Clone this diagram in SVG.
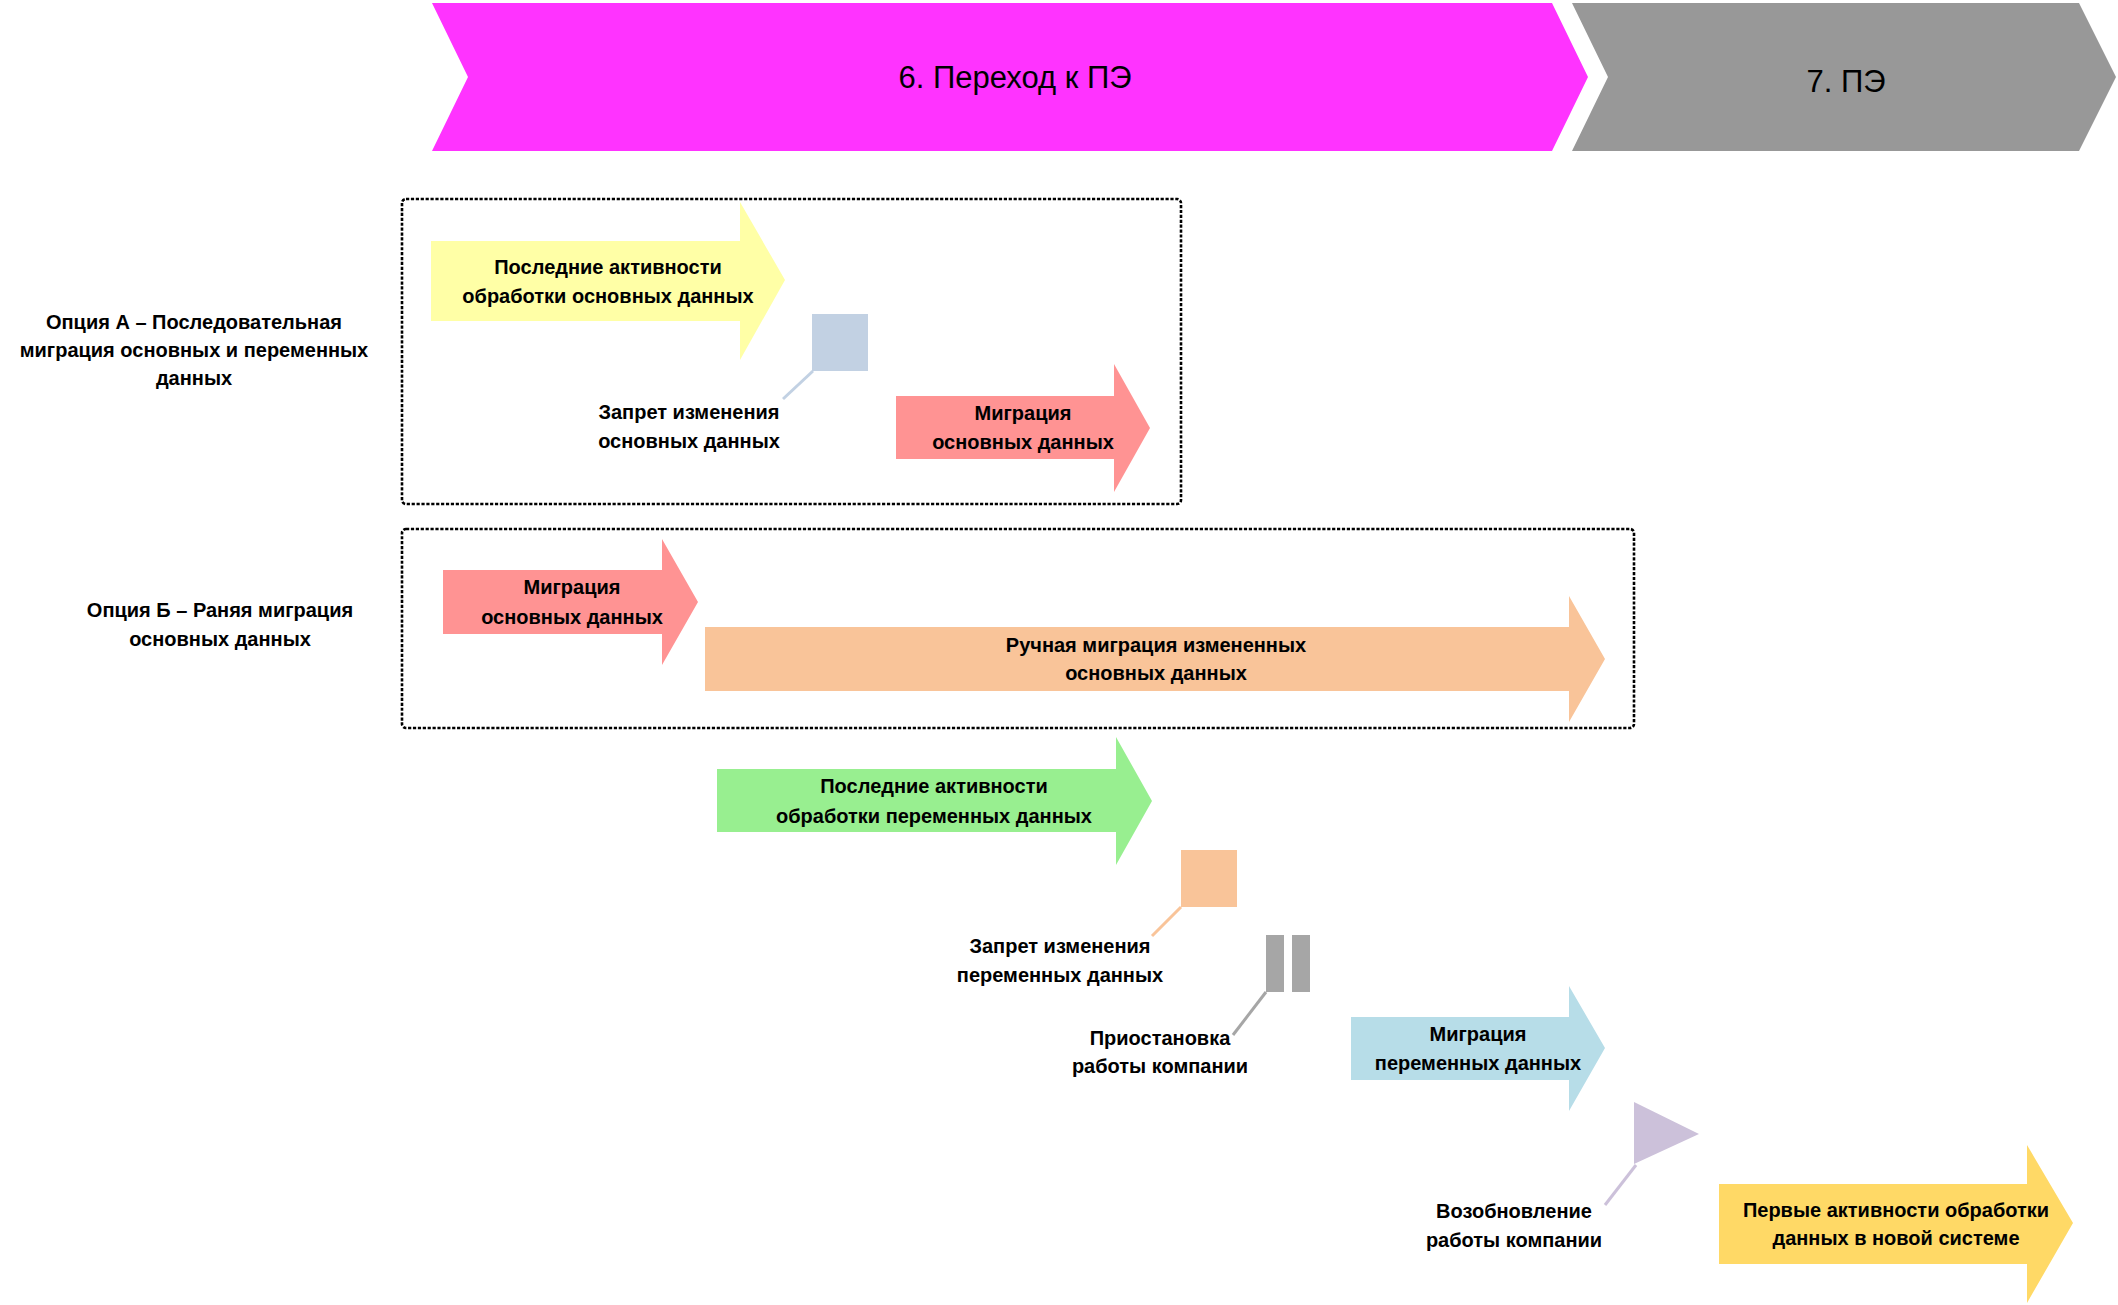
<svg xmlns="http://www.w3.org/2000/svg" width="2118" height="1305" viewBox="0 0 2118 1305">
<style>
  .t { font-family: "Liberation Sans", Arial, sans-serif; font-weight: bold; font-size: 20px; fill: #000; text-anchor: middle; }
  .h { font-family: "Liberation Sans", Arial, sans-serif; font-size: 31px; fill: #000; text-anchor: middle; }
  .box { fill: none; stroke: #000; stroke-width: 2.6; stroke-dasharray: 3.2 1.7; }
  .cl { stroke-width: 3; fill: none; }
</style>
<rect width="2118" height="1305" fill="#fff"/>

<g id="phase6">
  <path d="M432 3 L1552 3 L1588 77 L1552 151 L432 151 L468 77 Z" fill="#FF33FF"/>
  <text class="h" x="1015" y="88">6. Переход к ПЭ</text>
</g>
<g id="phase7">
  <path d="M1572 3 L2079 3 L2116 77 L2079 151 L1572 151 L1608 77 Z" fill="#989898"/>
  <text class="h" x="1846" y="92">7. ПЭ</text>
</g>

<g id="optionA-box">
  <rect class="box" x="402" y="199" width="779" height="305" rx="4"/>
</g>
<g id="optionB-box">
  <rect class="box" x="402" y="529" width="1232" height="199" rx="4"/>
</g>

<g id="optionA-label">
  <text class="t" x="194" y="329">Опция А – Последовательная</text>
  <text class="t" x="194" y="357">миграция основных и переменных</text>
  <text class="t" x="194" y="385">данных</text>
</g>
<g id="optionB-label">
  <text class="t" x="220" y="617">Опция Б – Раняя миграция</text>
  <text class="t" x="220" y="646">основных данных</text>
</g>

<g id="connectors">
  <line class="cl" x1="813" y1="371" x2="783" y2="399" stroke="#C2D1E3"/>
  <line class="cl" x1="1181" y1="907" x2="1152" y2="936" stroke="#F9C499"/>
  <line class="cl" x1="1266" y1="992" x2="1233" y2="1035" stroke="#A6A6A6"/>
  <line class="cl" x1="1636" y1="1165" x2="1605" y2="1205" stroke="#CCC1DA"/>
</g>

<g id="last-master-activities">
  <path d="M431 241 L740 241 L740 202 L785 280 L740 360 L740 321 L431 321 Z" fill="#FFFFA6"/>
  <text class="t" x="608" y="274">Последние активности</text>
  <text class="t" x="608" y="303">обработки основных данных</text>
</g>

<g id="freeze-master">
  <rect x="812" y="314" width="56" height="57" fill="#C2D1E3"/>
  <text class="t" x="689" y="419">Запрет изменения</text>
  <text class="t" x="689" y="448">основных данных</text>
</g>

<g id="migrate-master-A">
  <path d="M896 396 L1114 396 L1114 364 L1150 428 L1114 492 L1114 459 L896 459 Z" fill="#FF9393"/>
  <text class="t" x="1023" y="420">Миграция</text>
  <text class="t" x="1023" y="449">основных данных</text>
</g>

<g id="migrate-master-B">
  <path d="M443 570 L662 570 L662 539 L698 602 L662 665 L662 634 L443 634 Z" fill="#FF9393"/>
  <text class="t" x="572" y="594">Миграция</text>
  <text class="t" x="572" y="624">основных данных</text>
</g>

<g id="manual-migration">
  <path d="M705 627 L1569 627 L1569 596 L1605 659 L1569 722 L1569 691 L705 691 Z" fill="#F9C499"/>
  <text class="t" x="1156" y="652">Ручная миграция измененных</text>
  <text class="t" x="1156" y="680">основных данных</text>
</g>

<g id="last-variable-activities">
  <path d="M717 769 L1116 769 L1116 737 L1152 801 L1116 865 L1116 832 L717 832 Z" fill="#98EF90"/>
  <text class="t" x="934" y="793">Последние активности</text>
  <text class="t" x="934" y="823">обработки переменных данных</text>
</g>

<g id="freeze-variable">
  <rect x="1181" y="850" width="56" height="57" fill="#F9C499"/>
  <text class="t" x="1060" y="953">Запрет изменения</text>
  <text class="t" x="1060" y="982">переменных данных</text>
</g>

<g id="pause">
  <rect x="1266" y="935" width="18" height="57" fill="#A6A6A6"/>
  <rect x="1292" y="935" width="18" height="57" fill="#A6A6A6"/>
  <text class="t" x="1160" y="1045">Приостановка</text>
  <text class="t" x="1160" y="1073">работы компании</text>
</g>

<g id="migrate-variable">
  <path d="M1351 1017 L1569 1017 L1569 986 L1605 1048 L1569 1111 L1569 1080 L1351 1080 Z" fill="#B7DDE8"/>
  <text class="t" x="1478" y="1041">Миграция</text>
  <text class="t" x="1478" y="1070">переменных данных</text>
</g>

<g id="resume">
  <path d="M1634 1102 L1699 1134 L1634 1164 Z" fill="#CCC1DA"/>
  <text class="t" x="1514" y="1218">Возобновление</text>
  <text class="t" x="1514" y="1247">работы компании</text>
</g>

<g id="first-activities">
  <path d="M1719 1184 L2027 1184 L2027 1145 L2073 1223 L2027 1303 L2027 1264 L1719 1264 Z" fill="#FFD966"/>
  <text class="t" x="1896" y="1217">Первые активности обработки</text>
  <text class="t" x="1896" y="1245">данных в новой системе</text>
</g>
</svg>
